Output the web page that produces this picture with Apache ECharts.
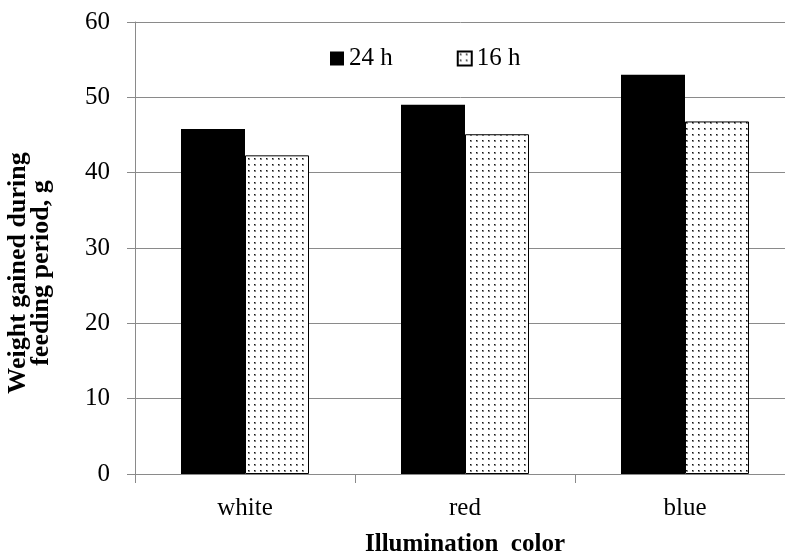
<!DOCTYPE html>
<html>
<head>
<meta charset="utf-8">
<script src="https://cdn.jsdelivr.net/npm/echarts@6/dist/echarts.min.js"></script>
<style>
html,body{margin:0;padding:0;background:#fff;}
#chart{width:785px;height:554px;}
</style>
</head>
<body>
<div id="chart"></div>
<script>
var categories = ['white', 'red', 'blue'];
var series24h = [45.8, 49.0, 53.0];
var series16h = [42.3, 45.1, 46.8];
var seriesNames = ['24 h', '16 h'];
var yTicks = { min: 0, max: 60, interval: 10 };
var yTitle = 'Weight gained during\nfeeding period, g';
var xTitle = 'Illumination  color';

var FONT = '"Liberation Serif", "Times New Roman", serif';

function makeDots() {
  var c = document.createElement('canvas');
  c.width = 6; c.height = 6;
  var g = c.getContext('2d');
  g.fillStyle = '#ffffff';
  g.fillRect(0, 0, 6, 6);
  g.fillStyle = '#888888';
  g.fillRect(2, 2, 2, 2);
  g.fillStyle = '#111111';
  g.fillRect(2, 2, 1, 1);
  return c;
}
var dots = makeDots();

var chart = echarts.init(document.getElementById('chart'), null, { renderer: 'canvas' });
chart.setOption({
  backgroundColor: '#ffffff',
  animation: false,
  textStyle: { fontFamily: FONT },
  grid: { left: 135, right: -10, top: 22, bottom: 80, containLabel: false, outerBoundsMode: 'none' },
  legend: {
    data: seriesNames,
    icon: 'rect',
    left: 330, top: 46, padding: 0,
    itemWidth: 14, itemHeight: 14, itemGap: 64,
    textStyle: { fontFamily: FONT, fontSize: 25, color: '#000' }
  },
  xAxis: {
    type: 'category',
    data: categories,
    axisLine: { lineStyle: { color: '#8a8a8a', width: 1 } },
    axisTick: { show: true, alignWithLabel: false, length: 9, lineStyle: { color: '#8a8a8a' } },
    axisLabel: { fontFamily: FONT, fontSize: 25, color: '#000', margin: 22 },
    name: xTitle,
    nameLocation: 'middle',
    nameGap: 58,
    nameTextStyle: { fontFamily: FONT, fontSize: 25, fontWeight: 'bold', color: '#000' }
  },
  yAxis: {
    type: 'value',
    min: yTicks.min, max: yTicks.max, interval: yTicks.interval,
    axisLine: { show: true, lineStyle: { color: '#8a8a8a', width: 1 } },
    axisTick: { show: true, length: 8, lineStyle: { color: '#8a8a8a' } },
    splitLine: { lineStyle: { color: '#8a8a8a', width: 1 } },
    axisLabel: { fontFamily: FONT, fontSize: 25, color: '#000', margin: 25 }
  },
  graphic: [{
    type: 'text',
    x: 30, y: 273,
    rotation: Math.PI / 2,
    style: {
      text: yTitle,
      font: 'bold 26px ' + FONT,
      fill: '#000',
      textAlign: 'center',
      textVerticalAlign: 'middle',
      lineHeight: 23
    }
  }],
  series: [{
    name: seriesNames[0],
    type: 'bar',
    data: series24h,
    barWidth: 64,
    barGap: '0%',
    itemStyle: { color: '#000000' }
  }, {
    name: seriesNames[1],
    type: 'bar',
    data: series16h,
    barWidth: 64,
    barGap: '0%',
    itemStyle: { color: { image: dots, repeat: 'repeat' }, borderColor: '#000', borderWidth: 1 }
  }]
});
</script>
</body>
</html>
